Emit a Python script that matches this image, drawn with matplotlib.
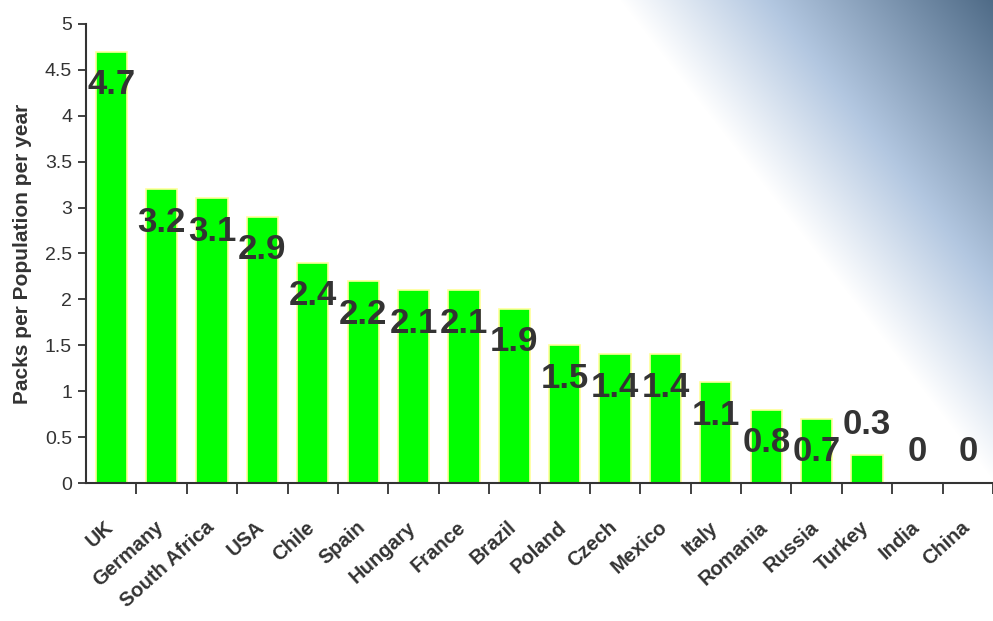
import numpy as np
import matplotlib
matplotlib.use("Agg")
import matplotlib.pyplot as plt
from matplotlib.transforms import ScaledTranslation

countries = ["UK", "Germany", "South Africa", "USA", "Chile", "Spain", "Hungary",
             "France", "Brazil", "Poland", "Czech", "Mexico", "Italy", "Romania",
             "Russia", "Turkey", "India", "China"]
packs = [4.7, 3.2, 3.1, 2.9, 2.4, 2.2, 2.1, 2.1, 1.9, 1.5, 1.4, 1.4, 1.1, 0.8,
         0.7, 0.3, 0, 0]
y_ticks = [0, 0.5, 1, 1.5, 2, 2.5, 3, 3.5, 4, 4.5, 5]

plt.rcParams['font.family'] = ['Liberation Sans', 'DejaVu Sans']
txt = '#333333'

W, H = 993, 621
fig = plt.figure(figsize=(W / 100, H / 100), dpi=100)

# blue gradient in the top right corner (background)
bg = fig.add_axes([0, 0, 1, 1], zorder=0)
yy, xx = np.mgrid[0:H, 0:W]
nx, ny = 480.0, -373.0
d = (nx * (xx - 620) + ny * yy) / np.hypot(nx, ny)
t = np.clip(d / 294.0, 0, 1)[..., None]
c0 = np.array([1.0, 1.0, 1.0])
c1 = np.array([0.70, 0.78, 0.88])
c2 = np.array([0.31, 0.42, 0.53])
k = 0.4
img = np.where(t < k, c0 + (c1 - c0) * (t / k), c1 + (c2 - c1) * ((t - k) / (1 - k)))
bg.imshow(img, extent=[0, 1, 0, 1], aspect='auto')
bg.axis('off')

ax = fig.add_axes([86 / W, 1 - 483 / H, 907 / W, 459 / H], zorder=1)
ax.patch.set_alpha(0)

x = np.arange(len(countries))
ax.bar(x, packs, width=0.62, color='#00FF00', edgecolor='#FFFF99', linewidth=1.2, zorder=2)

for xi, v in zip(x, packs):
    if v < 0.5:
        ly = v + 0.34
    else:
        ly = v - 0.36
    ax.text(xi, ly, f"{v:g}", ha='center', va='center', fontsize=25,
            fontweight='bold', color=txt, zorder=3)

ax.set_xlim(-0.5, len(countries) - 0.5)
ax.set_ylim(0, 5)
ax.set_yticks(y_ticks)
ax.set_yticklabels([f"{v:g}" for v in y_ticks], fontsize=14, color=txt)
ax.set_xticks(x)
ax.set_xticklabels(countries, rotation=42, ha='right', va='top', rotation_mode='anchor',
                   fontsize=14.5, fontweight='bold', color=txt)
ax.tick_params(axis='x', which='major', length=0, pad=25)
ax.set_xticks(np.arange(len(countries)) + 0.5, minor=True)
ax.tick_params(axis='x', which='minor', length=8, width=1.3, color=txt)
ax.tick_params(axis='y', length=6, width=1.3, color=txt, pad=4)

shift = ScaledTranslation(-0.07, 0, fig.dpi_scale_trans)
for lab in ax.get_xticklabels():
    lab.set_transform(lab.get_transform() + shift)

ax.set_ylabel("Packs per Population per year", fontsize=15, fontweight='bold',
              color=txt, labelpad=9)

for sp in ['top', 'right']:
    ax.spines[sp].set_visible(False)
for sp in ['left', 'bottom']:
    ax.spines[sp].set_color(txt)
    ax.spines[sp].set_linewidth(1.5)

fig.savefig("out.png", dpi=100)
